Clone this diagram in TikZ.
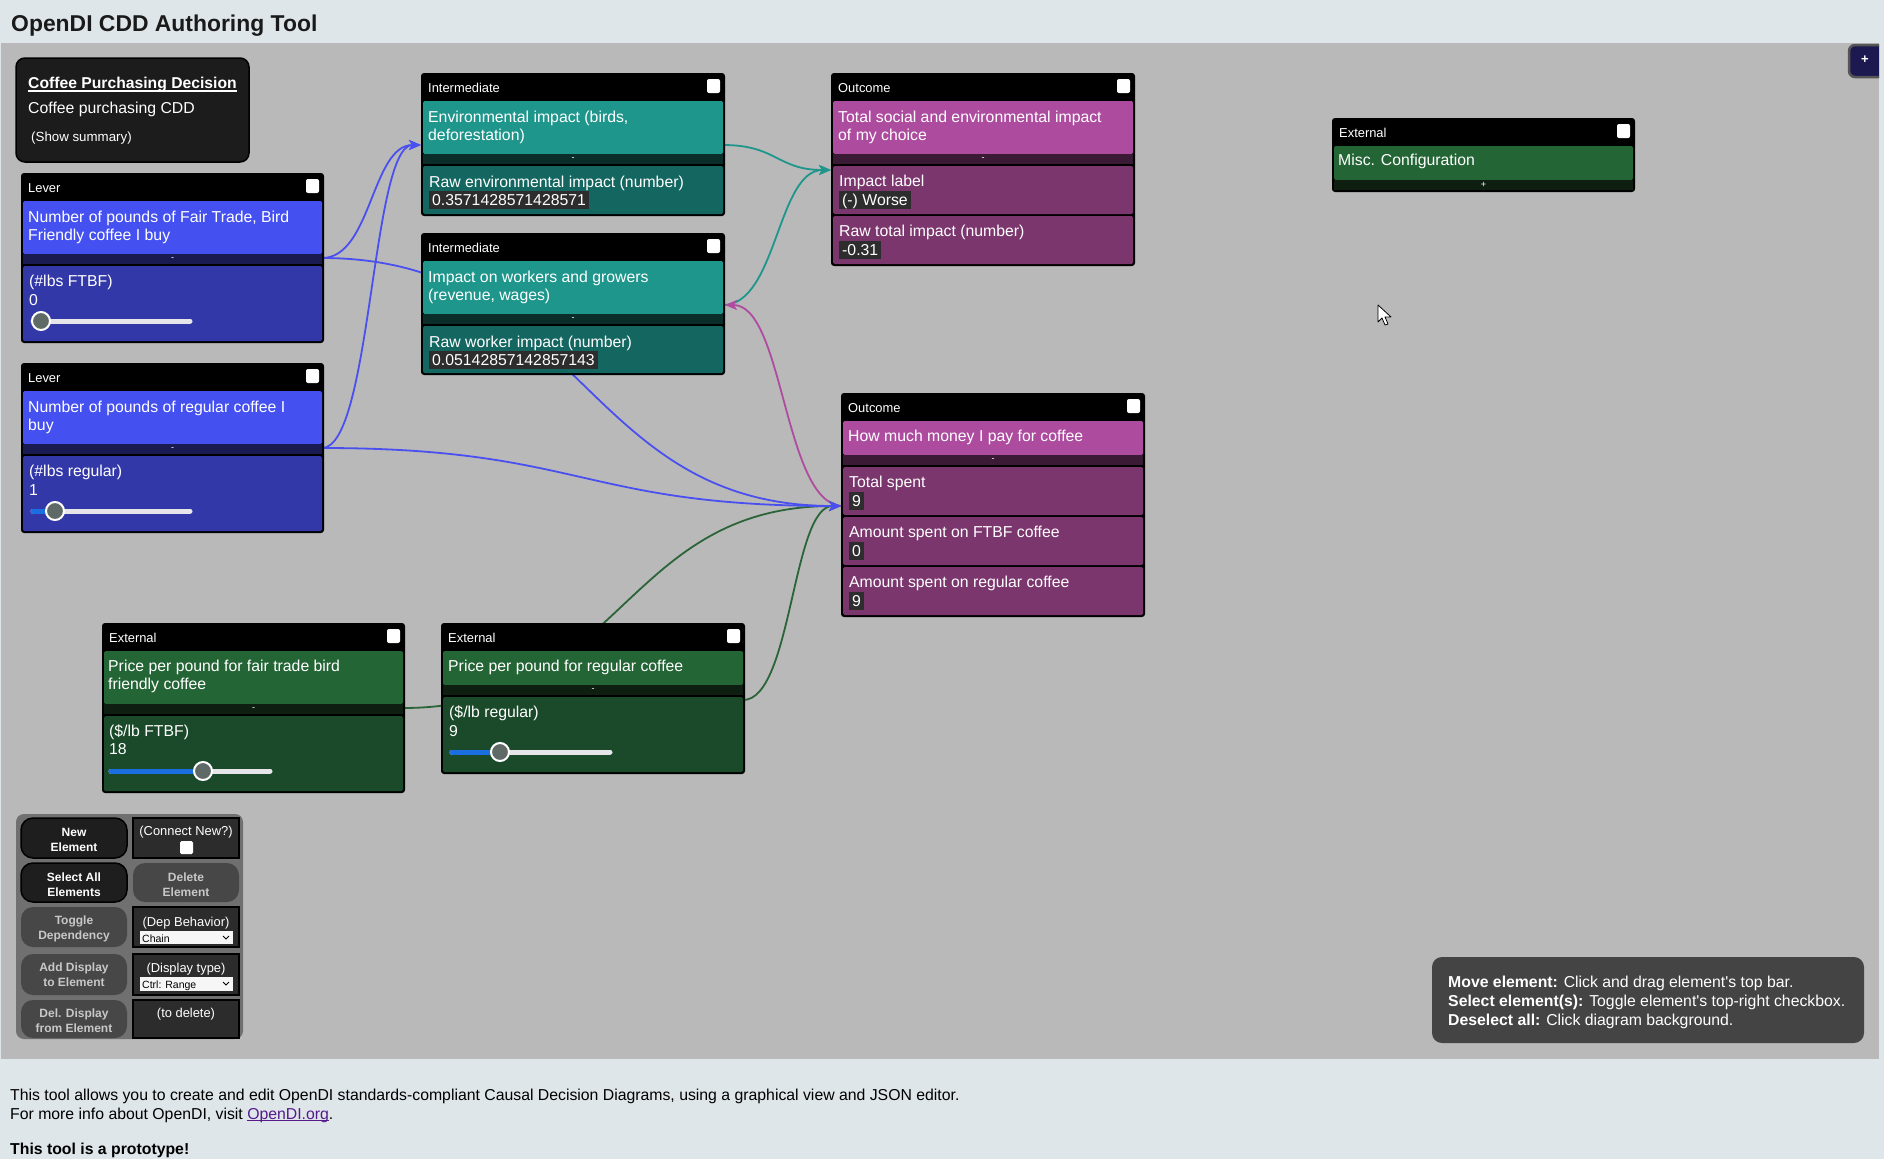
\documentclass[tikz,border=0pt]{standalone}
\usepackage{fontspec}
\setmainfont{Liberation Sans}
\usetikzlibrary{arrows.meta,calc}
\definecolor{band}{HTML}{DFE6EA}
\definecolor{canvas}{HTML}{B9B9B9}
\definecolor{titlec}{HTML}{1A1A1A}
\definecolor{decbg}{HTML}{1C1C1C}
\definecolor{levT}{HTML}{4450F0}
\definecolor{levD}{HTML}{3338A8}
\definecolor{levS}{HTML}{1A1B50}
\definecolor{tealT}{HTML}{1E968C}
\definecolor{tealD}{HTML}{146660}
\definecolor{tealS}{HTML}{0B2E2B}
\definecolor{magT}{HTML}{AD4C9F}
\definecolor{magD}{HTML}{7B366E}
\definecolor{magS}{HTML}{3B1A36}
\definecolor{grnT}{HTML}{246536}
\definecolor{grnD}{HTML}{1A4A29}
\definecolor{grnS}{HTML}{0E1F12}
\definecolor{valbg}{HTML}{2D2D2D}
\definecolor{trackc}{HTML}{E6E6EA}
\definecolor{sliderblue}{HTML}{1A6EE0}
\definecolor{thumbc}{HTML}{5F6A66}
\definecolor{blueL}{HTML}{4A50F0}
\definecolor{tealL}{HTML}{1E968C}
\definecolor{magL}{HTML}{B04CA0}
\definecolor{grnL}{HTML}{2A6438}
\definecolor{panelc}{HTML}{707070}
\definecolor{btndark}{HTML}{1E1E1E}
\definecolor{btndis}{HTML}{474747}
\definecolor{btndistext}{HTML}{C8C8C8}
\definecolor{boxc}{HTML}{2C2C2C}
\definecolor{infoc}{HTML}{444444}
\definecolor{linkc}{HTML}{551A8B}
\definecolor{plusbg}{HTML}{1C1850}
\definecolor{plusbd}{HTML}{555555}
\newsavebox{\cddlinkbox}
\newcommand{\cddulink}[1]{\sbox{\cddlinkbox}{#1}\textcolor{linkc}{\rlap{\rule[-2pt]{\wd\cddlinkbox}{1pt}}#1}}
\tikzset{
  hdr/.style={anchor=base west, inner sep=0pt, text=white, font=\fontsize{12.9}{15}\selectfont},
  ttl/.style={anchor=base west, inner sep=0pt, text=white, font=\fontsize{15.8}{19}\selectfont},
  val/.style={anchor=base west, fill=valbg, text=white, inner xsep=3pt, inner ysep=0pt, text height=14pt, text depth=3.5pt, font=\fontsize{15.8}{19}\selectfont},
  divsym/.style={inner sep=0pt, text=white, font=\fontsize{9}{10}\selectfont},
  track/.style={line width=5pt, line cap=round, draw=trackc},
  trackfill/.style={line width=5pt, line cap=round, draw=sliderblue},
  thumb/.style={circle, fill=thumbc, draw=white, line width=2pt, minimum size=18pt, inner sep=0pt},
  conn/.style={line width=1.8pt, -{Stealth[length=12pt,width=10pt,inset=3pt]}},
  btnA/.style={fill=btndark, draw=black, line width=1.5pt, rounded corners=12pt},
  btnD/.style={fill=btndis, rounded corners=12pt},
  btnBox/.style={fill=boxc, draw=black, line width=1.5pt},
  btntxt/.style={anchor=base, inner sep=0pt, text=white, font=\bfseries\fontsize{12}{14}\selectfont},
  btndtxt/.style={anchor=base, inner sep=0pt, text=btndistext, font=\bfseries\fontsize{12}{14}\selectfont},
  boxtxt/.style={anchor=base, inner sep=0pt, text=white, font=\fontsize{12.9}{15}\selectfont},
  droptxt/.style={anchor=base west, inner sep=0pt, text=black, font=\fontsize{10.5}{12}\selectfont},
  infotxt/.style={anchor=base west, inner sep=0pt, text=white, font=\fontsize{15.8}{19}\selectfont},
  bodytxt/.style={anchor=base west, inner sep=0pt, text=black, font=\fontsize{15.8}{19}\selectfont}
}
\newcommand{\elframe}[6]{%
  \fill[black, rounded corners=3pt] (#2,#3) rectangle (#4,#5);
  \node[hdr] (#1-lbl) at ({#2+7},{#3+19}) {#6};
  \fill[white, rounded corners=2pt] ({#4-18},{#3+6}) rectangle ({#4-5},{#3+20});
}
\newcommand{\cddsect}[5]{\fill[#1, rounded corners=1.5pt] ({#2+2},#3) rectangle ({#4-2},#5);}
\newcommand{\cdddiv}[6]{%
  \fill[#2] ({#3+2},#4) rectangle ({#5-2},{#4+10});
  \node[divsym] (#1) at ({(#3+#5)/2},{#4+5}) {#6};
}
\newcommand{\cddslider}[5]{%
  \draw[track] (#2,#4) -- (#3,#4);
  \draw[trackfill] (#2,#4) -- (#5,#4);
  \node[thumb] (#1) at (#5,#4) {};
}
\newcommand{\cddlink}[3]{%
  \draw[#1] let \p1=(#2), \p2=(#3) in (\p1) .. controls ({0.5*(\x1+\x2)},\y1) and ({0.5*(\x1+\x2)},\y2) .. (\p2);
}
\begin{document}
\begin{tikzpicture}[x=1pt,y=-1pt]
\useasboundingbox (0,0) rectangle (1884,1159);
\fill[band] (0,0) rectangle (1884,1159);
\fill[canvas] (1,43) rectangle (1879,1059);
\node[anchor=base west, inner sep=0pt, font=\bfseries\fontsize{22.9}{26}\selectfont, text=titlec] (apptitle) at (11,31) {OpenDI CDD Authoring Tool};

% ports
\coordinate (lev1-out) at (322,258);
\coordinate (lev2-out) at (322,448);
\coordinate (int1-in) at (421,145);
\coordinate (int1-out) at (723,145);
\coordinate (int2-port) at (725,305);
\coordinate (int2-out) at (723,305);
\coordinate (out1-in) at (831,170);
\coordinate (out2-in) at (841,506);
\coordinate (out2-out) at (843,506);
\coordinate (extF-out) at (403,708);
\coordinate (extR-out) at (743,700);

% connectors
\cddlink{conn, draw=grnL}{extF-out}{out2-in}
\cddlink{conn, draw=grnL}{extR-out}{out2-in}
\cddlink{conn, draw=tealL}{int1-out}{out1-in}
\cddlink{conn, draw=tealL}{int2-out}{out1-in}
\cddlink{conn, draw=magL}{out2-out}{int2-port}
\cddlink{conn, draw=blueL}{lev1-out}{int1-in}
\cddlink{conn, draw=blueL}{lev2-out}{int1-in}
\cddlink{conn, draw=blueL}{lev1-out}{out2-in}
\cddlink{conn, draw=blueL}{lev2-out}{out2-in}

% decision box
\draw[fill=decbg, draw=black, line width=1.5pt, rounded corners=9pt] (16,58) rectangle (249,162);
\node[anchor=base west, inner sep=0pt, text=white, font=\bfseries\fontsize{15.7}{19}\selectfont] (dec-title) at (28,88) {Coffee Purchasing Decision};
\draw[white, line width=1.1pt] ($(dec-title.base west)+(0,3)$) -- ($(dec-title.base east)+(0,3)$);
\node[ttl] (dec-sub) at (28,113) {Coffee purchasing CDD};
\node[anchor=base west, inner sep=0pt, text=white, font=\fontsize{13.3}{16}\selectfont] (dec-sum) at (31,141) {(Show summary)};

% lever 1
\elframe{lev1}{21}{173}{324}{343}{Lever}
\cddsect{levT}{21}{201}{324}{254}
\node[ttl] (lev1-t1) at (28,222) {Number of pounds of Fair Trade, Bird};
\node[ttl] (lev1-t2) at (28,240) {Friendly coffee I buy};
\cdddiv{lev1-div}{levS}{21}{254}{324}{-}
\cddsect{levD}{21}{266}{324}{341}
\node[ttl] (lev1-d1) at (29,286) {(\#lbs FTBF)};
\node[ttl] (lev1-d2) at (29,305) {0};
\cddslider{lev1-thumb}{33}{190}{321}{41}

% lever 2
\elframe{lev2}{21}{363}{324}{533}{Lever}
\cddsect{levT}{21}{391}{324}{444}
\node[ttl] (lev2-t1) at (28,412) {Number of pounds of regular coffee I};
\node[ttl] (lev2-t2) at (28,430) {buy};
\cdddiv{lev2-div}{levS}{21}{444}{324}{-}
\cddsect{levD}{21}{456}{324}{531}
\node[ttl] (lev2-d1) at (29,476) {(\#lbs regular)};
\node[ttl] (lev2-d2) at (29,495) {1};
\cddslider{lev2-thumb}{33}{190}{511}{55}

% intermediate 1
\elframe{int1}{421}{73}{725}{216}{Intermediate}
\cddsect{tealT}{421}{101}{725}{154}
\node[ttl] (int1-t1) at (428,122) {Environmental impact (birds,};
\node[ttl] (int1-t2) at (428,140) {deforestation)};
\cdddiv{int1-div}{tealS}{421}{154}{725}{-}
\cddsect{tealD}{421}{166}{725}{214}
\node[ttl] (int1-d1) at (429,187) {Raw environmental impact (number)};
\node[val] (int1-v) at (429,205) {0.3571428571428571};

% intermediate 2
\elframe{int2}{421}{233}{725}{375}{Intermediate}
\cddsect{tealT}{421}{261}{725}{314}
\node[ttl] (int2-t1) at (428,282) {Impact on workers and growers};
\node[ttl] (int2-t2) at (428,300) {(revenue, wages)};
\cdddiv{int2-div}{tealS}{421}{314}{725}{-}
\cddsect{tealD}{421}{326}{725}{373}
\node[ttl] (int2-d1) at (429,347) {Raw worker impact (number)};
\node[val] (int2-v) at (429,365) {0.05142857142857143};

% outcome 1
\elframe{out1}{831}{73}{1135}{266}{Outcome}
\cddsect{magT}{831}{101}{1135}{154}
\node[ttl] (out1-t1) at (838,122) {Total social and environmental impact};
\node[ttl] (out1-t2) at (838,140) {of my choice};
\cdddiv{out1-div}{magS}{831}{154}{1135}{-}
\cddsect{magD}{831}{166}{1135}{214}
\node[ttl] (out1-d1) at (839,186) {Impact label};
\node[val] (out1-v1) at (839,205) {(-) Worse};
\cddsect{magD}{831}{216}{1135}{264}
\node[ttl] (out1-d2) at (839,236) {Raw total impact (number)};
\node[val] (out1-v2) at (839,255) {-0.31};

% outcome 2
\elframe{out2}{841}{393}{1145}{617}{Outcome}
\cddsect{magT}{841}{421}{1145}{455}
\node[ttl] (out2-t1) at (848,441) {How much money I pay for coffee};
\cdddiv{out2-div}{magS}{841}{455}{1145}{-}
\cddsect{magD}{841}{467}{1145}{515}
\node[ttl] (out2-d1) at (849,487) {Total spent};
\node[val] (out2-v1) at (849,506) {9};
\cddsect{magD}{841}{517}{1145}{565}
\node[ttl] (out2-d2) at (849,537) {Amount spent on FTBF coffee};
\node[val] (out2-v2) at (849,556) {0};
\cddsect{magD}{841}{567}{1145}{615}
\node[ttl] (out2-d3) at (849,587) {Amount spent on regular coffee};
\node[val] (out2-v3) at (849,606) {9};

% external FTBF price
\elframe{extF}{102}{623}{405}{793}{External}
\cddsect{grnT}{102}{651}{405}{704}
\node[ttl] (extF-t1) at (108,671) {Price per pound for fair trade bird};
\node[ttl] (extF-t2) at (108,689) {friendly coffee};
\cdddiv{extF-div}{grnS}{102}{704}{405}{-}
\cddsect{grnD}{102}{716}{405}{791}
\node[ttl] (extF-d1) at (109,736) {(\$/lb FTBF)};
\node[ttl] (extF-d2) at (109,754) {18};
\cddslider{extF-thumb}{111}{270}{771}{203}

% external regular price
\elframe{extR}{441}{623}{745}{774}{External}
\cddsect{grnT}{441}{651}{745}{685}
\node[ttl] (extR-t1) at (448,671) {Price per pound for regular coffee};
\cdddiv{extR-div}{grnS}{441}{685}{745}{-}
\cddsect{grnD}{441}{697}{745}{772}
\node[ttl] (extR-d1) at (449,717) {(\$/lb regular)};
\node[ttl] (extR-d2) at (449,736) {9};
\cddslider{extR-thumb}{452}{610}{752}{500}

% misc configuration
\elframe{misc}{1332}{118}{1635}{192}{External}
\cddsect{grnT}{1332}{146}{1635}{180}
\node[ttl] (misc-t1) at (1338,165) {Misc. Configuration};
\cdddiv{misc-div}{grnS}{1332}{180}{1635}{+}

% plus button (clipped at canvas edge)
\begin{scope}
\clip (1,43) rectangle (1879,1059);
\draw[fill=plusbg, draw=plusbd, line width=2.5pt, rounded corners=6pt] (1849,45) rectangle (1900,77);
\end{scope}
\node[inner sep=0pt, text=white, font=\bfseries\fontsize{13}{14}\selectfont] (plusbtn) at (1865,60) {+};

% mouse cursor
\filldraw[fill=white, draw=black, line width=0.8pt, line join=round] (1378,305) -- (1378,322) -- (1382,318) -- (1385,325) -- (1388,324) -- (1385,317) -- (1391,317) -- cycle;

% button panel
\fill[panelc, rounded corners=8pt] (16,814) rectangle (243,1039);
\draw[btnA] (21,818) rectangle (127,858);
\node[btntxt] (b1a) at (74,836) {New};
\node[btntxt] (b1b) at (74,851) {Element};
\draw[btnBox] (133,818) rectangle (239,858);
\node[boxtxt] (c1) at (186,835) {(Connect New?)};
\fill[white, rounded corners=1.5pt] (180,841) rectangle (193,854);
\draw[btnA] (21,863) rectangle (127,902);
\node[btntxt] (b2a) at (74,881) {Select All};
\node[btntxt] (b2b) at (74,896) {Elements};
\fill[btnD] (133,863) rectangle (239,902);
\node[btndtxt] (c2a) at (186,881) {Delete};
\node[btndtxt] (c2b) at (186,896) {Element};
\fill[btnD] (21,907) rectangle (127,947);
\node[btndtxt] (b3a) at (74,924) {Toggle};
\node[btndtxt] (b3b) at (74,939) {Dependency};
\draw[btnBox] (133,907) rectangle (239,947);
\node[boxtxt] (c3) at (186,926) {(Dep Behavior)};
\fill[white!93!gray] (140,931) rectangle (233,944);
\node[droptxt] (c3d) at (142,942) {Chain};
\draw[black, line width=0.8pt] (223,936) -- (226,939) -- (229,936);
\fill[btnD] (21,954) rectangle (127,995);
\node[btndtxt] (b4a) at (74,971) {Add Display};
\node[btndtxt] (b4b) at (74,986) {to Element};
\draw[btnBox] (133,954) rectangle (239,995);
\node[boxtxt] (c4) at (186,972) {(Display type)};
\fill[white!93!gray] (140,977) rectangle (233,991);
\node[droptxt] (c4d) at (142,988) {Ctrl: Range};
\draw[black, line width=0.8pt] (223,982) -- (226,985) -- (229,982);
\fill[btnD] (21,1000) rectangle (127,1038);
\node[btndtxt] (b5a) at (74,1017) {Del. Display};
\node[btndtxt] (b5b) at (74,1032) {from Element};
\draw[btnBox] (133,1000) rectangle (239,1038);
\node[boxtxt] (c5) at (186,1017) {(to delete)};

% info box
\fill[infoc, rounded corners=10pt] (1432,957) rectangle (1864,1043);
\node[infotxt] (i1) at (1448,987) {\textbf{Move element:} Click and drag element\textquotesingle s top bar.};
\node[infotxt] (i2) at (1448,1006) {\textbf{Select element(s):} Toggle element\textquotesingle s top-right checkbox.};
\node[infotxt] (i3) at (1448,1025) {\textbf{Deselect all:} Click diagram background.};

% footer text
\node[bodytxt] (f1) at (10,1100) {This tool allows you to create and edit OpenDI standards-compliant Causal Decision Diagrams, using a graphical view and JSON editor.};
\node[bodytxt] (f2) at (10,1119) {For more info about OpenDI, visit \cddulink{OpenDI.org}.};
\node[bodytxt, font=\bfseries\fontsize{15.8}{19}\selectfont] (f3) at (10,1154) {This tool is a prototype!};
\end{tikzpicture}
\end{document}
